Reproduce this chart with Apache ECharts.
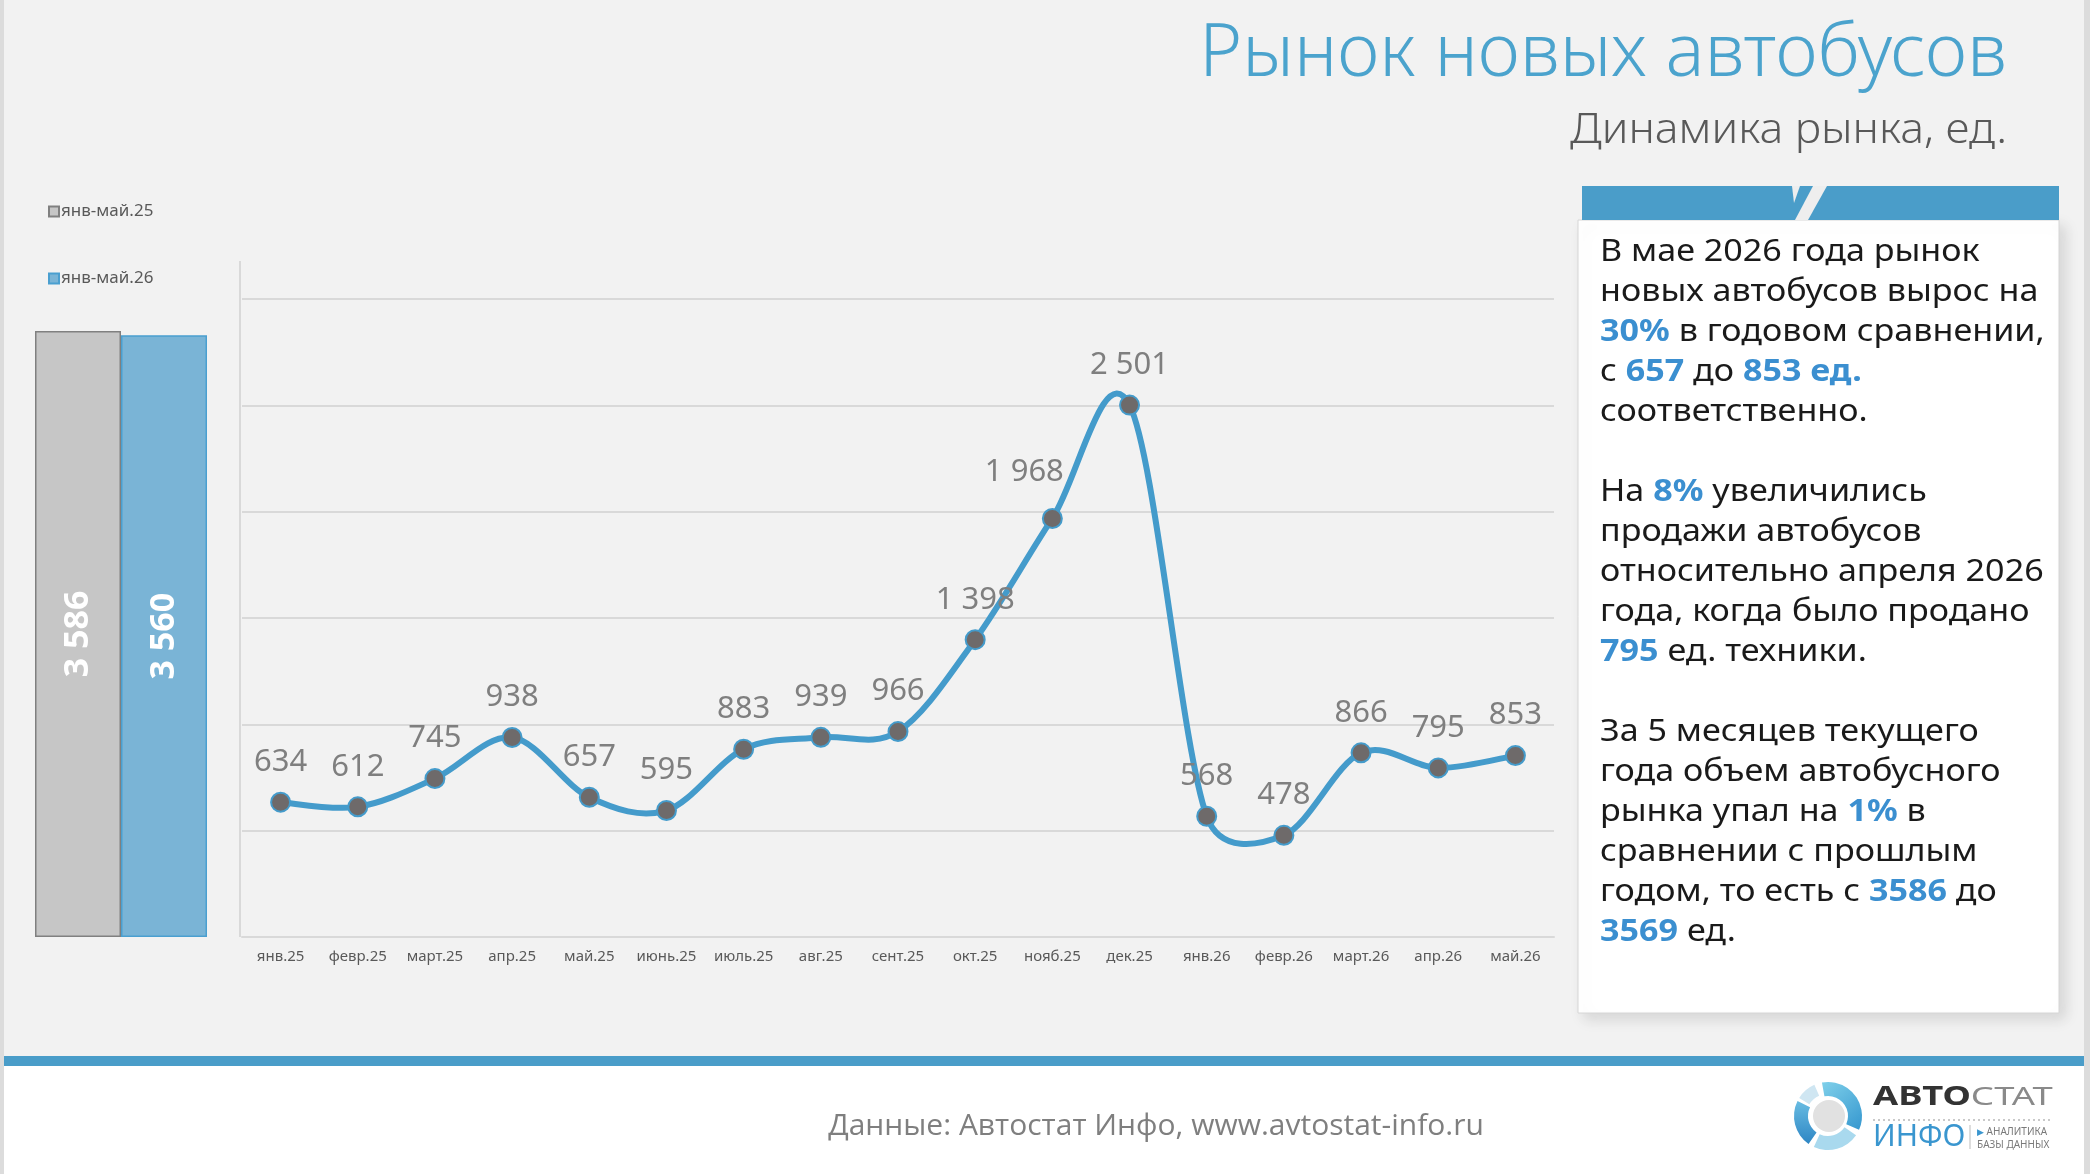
<!DOCTYPE html>
<html>
<head>
<meta charset="utf-8">
<script src="https://cdn.jsdelivr.net/npm/echarts@6/dist/echarts.min.js"></script>
<style>
html,body{margin:0;padding:0;background:#f2f2f2;}
#c{width:2090px;height:1174px;}
</style>
</head>
<body>
<div id="c"></div>
<script>
// ---- data ----
const months = ['янв.25','февр.25','март.25','апр.25','май.25','июнь.25','июль.25','авг.25','сент.25','окт.25','нояб.25','дек.25','янв.26','февр.26','март.26','апр.26','май.26'];
const sales = [634, 612, 745, 938, 657, 595, 883, 939, 966, 1398, 1968, 2501, 568, 478, 866, 795, 853];
const ytdNames = ['янв-май.25', 'янв-май.26'];
const ytdValues = [3586, 3560];
const titleText = 'Рынок новых автобусов';
const subtitleText = 'Динамика рынка, ед.';
const sourceText = 'Данные: Автостат Инфо, www.avtostat-info.ru';
const cardLines = [
  'В мае 2026 года рынок',
  'новых автобусов вырос на',
  '{b|30%} в годовом сравнении,',
  'с {b|657} до {b|853 ед.}',
  'соответственно.',
  '',
  'На {b|8%} увеличились',
  'продажи автобусов',
  'относительно апреля 2026',
  'года, когда было продано',
  '{b|795} ед. техники.',
  '',
  'За 5 месяцев текущего',
  'года объем автобусного',
  'рынка упал на {b|1%} в',
  'сравнении с прошлым',
  'годом, то есть с {b|3586} до',
  '{b|3569} ед.'
];

const fmt = v => String(v).replace(/\B(?=(\d{3})+(?!\d))/g, ' ');
const FONT = '"Noto Sans", sans-serif';
const BLUE = '#449bcb';

const lineData = sales.map((v, i) => {
  if (months[i] === 'нояб.25') return { value: v, label: { offset: [-28, -6] } };
  return v;
});

// Excel-like smoothed segment between point i and i+1 (uses axis coordinates from the library)
function renderSegment(params, api) {
  const i = params.dataIndex;
  const n = sales.length;
  if (i >= n - 1) return null;
  const P = k => api.coord([Math.max(0, Math.min(n - 1, k)), sales[Math.max(0, Math.min(n - 1, k))]]);
  const p0 = P(i - 1), p1 = P(i), p2 = P(i + 1), p3 = P(i + 2);
  const d = (a, b) => Math.hypot(a[0] - b[0], a[1] - b[1]);
  const f = 1 / 6;
  const d12 = d(p1, p2), d02 = d(p0, p2), d13 = d(p1, p3);
  let f0 = f, f1 = f;
  if (d02 / 6 >= d12 / 2) f0 = d02 > 0 ? d12 / d02 / 2 : 0;
  if (d13 / 6 >= d12 / 2) f1 = d13 > 0 ? d12 / d13 / 2 : 0;
  const c1 = [p1[0] + (p2[0] - p0[0]) * f0, p1[1] + (p2[1] - p0[1]) * f0];
  const c2 = [p2[0] - (p3[0] - p1[0]) * f1, p2[1] - (p3[1] - p1[1]) * f1];
  return {
    type: 'bezierCurve',
    shape: { x1: p1[0], y1: p1[1], cpx1: c1[0], cpy1: c1[1], cpx2: c2[0], cpy2: c2[1], x2: p2[0], y2: p2[1] },
    style: { stroke: BLUE, lineWidth: 6, fill: null, lineCap: 'round' }
  };
}

const chart = echarts.init(document.getElementById('c'), null, { renderer: 'canvas' });

const graphics = [
  // page borders
  { type: 'rect', shape: { x: 0, y: 0, width: 4, height: 1174 }, style: { fill: '#dcdcdc' }, z: -1 },
  { type: 'rect', shape: { x: 2084, y: 0, width: 6, height: 1174 }, style: { fill: '#dcdcdc' }, z: -1 },
  // footer
  { type: 'rect', shape: { x: 4, y: 1066, width: 2080, height: 108 }, style: { fill: '#ffffff' }, z: -1 },
  { type: 'rect', shape: { x: 4, y: 1056, width: 2080, height: 10 }, style: { fill: '#4a9dc9' } },
  // title
  { type: 'text', x: 2007, y: 55, style: { text: titleText, fill: '#4ba3cd', font: '300 73px ' + FONT, align: 'right', verticalAlign: 'middle' } },
  { type: 'text', x: 2007, y: 131, scaleX: 1.06, style: { text: subtitleText, fill: '#595959', font: '300 42px ' + FONT, align: 'right', verticalAlign: 'middle' } },
  // y axis line for the line chart
  { type: 'line', shape: { x1: 240, y1: 261, x2: 240, y2: 937 }, style: { stroke: '#d9d9d9', lineWidth: 2 } },
  // card
  { type: 'rect', shape: { x: 1578, y: 220, width: 481, height: 793 }, style: { fill: '#ffffff', stroke: '#d6d6d6', lineWidth: 1, shadowBlur: 14, shadowOffsetX: 6, shadowOffsetY: 6, shadowColor: 'rgba(0,0,0,0.12)' } },
  { type: 'rect', shape: { x: 1582, y: 186, width: 477, height: 34 }, style: { fill: '#4a9dc9' } },
  { type: 'polygon', shape: { points: [[1813, 186], [1827, 186], [1808, 220], [1795, 220]] }, style: { fill: '#eeeeee' } },
  { type: 'polygon', shape: { points: [[1792, 186], [1800, 186], [1794, 203]] }, style: { fill: '#eeeeee' } },
  { type: 'text', x: 1600, y: 232, scaleX: 1.1, style: {
      text: cardLines.join('\n'), fill: '#1a1a1a', font: '31px ' + FONT, lineHeight: 40, verticalAlign: 'top', align: 'left',
      rich: { b: { fill: '#3b8fd0', font: 'bold 31px ' + FONT, lineHeight: 40 } }
  } },
  // source
  { type: 'text', x: 1156, y: 1126, style: { text: sourceText, fill: '#7f7f7f', font: '30px "Open Sans", sans-serif', align: 'center', verticalAlign: 'middle' } },
  // logo
  { type: 'sector', shape: { cx: 1828, cy: 1116, r: 34, r0: 20, startAngle: -1.75, endAngle: 0.42 },
    style: { fill: new echarts.graphic.LinearGradient(0, 0, 1, 1, [{ offset: 0, color: '#7fd0ea' }, { offset: 1, color: '#3597cf' }]) } },
  { type: 'sector', shape: { cx: 1828, cy: 1116, r: 34, r0: 20, startAngle: 0.6, endAngle: 2.0 },
    style: { fill: '#a9d9ee' } },
  { type: 'sector', shape: { cx: 1828, cy: 1116, r: 34, r0: 20, startAngle: 2.18, endAngle: 3.6 },
    style: { fill: new echarts.graphic.LinearGradient(0, 0, 0, 1, [{ offset: 0, color: '#68bce2' }, { offset: 1, color: '#2e86c4' }]) } },
  { type: 'sector', shape: { cx: 1828, cy: 1116, r: 34, r0: 22, startAngle: 3.7, endAngle: 4.3 },
    style: { fill: '#cfe6f2' } },
  { type: 'circle', shape: { cx: 1829, cy: 1116, r: 16 }, style: { fill: '#e1e1e1' } },
  { type: 'text', x: 1873, y: 1098, scaleX: 1.4, style: { text: '{a|АВТО}{s|СТАТ}', verticalAlign: 'middle', align: 'left',
      rich: { a: { fill: '#333333', font: 'bold 26px ' + FONT }, s: { fill: '#8a8a8a', font: '26px ' + FONT } } } },
  { type: 'line', shape: { x1: 1873, y1: 1120, x2: 2052, y2: 1120 }, style: { stroke: '#b8b8b8', lineWidth: 1.5, lineDash: [2, 3] } },
  { type: 'text', x: 1873, y: 1137, style: { text: 'ИНФО', fill: '#3a96cf', font: '30px ' + FONT, verticalAlign: 'middle', align: 'left' } },
  { type: 'line', shape: { x1: 1970, y1: 1125, x2: 1970, y2: 1149 }, style: { stroke: '#bbbbbb', lineWidth: 1 } },
  { type: 'text', x: 1977, y: 1132, style: { text: '{t|▶} АНАЛИТИКА', fill: '#7a7a7a', font: '10px ' + FONT, verticalAlign: 'middle', align: 'left', rich: { t: { fill: '#3a96cf', font: '9px ' + FONT } } } },
  { type: 'text', x: 1977, y: 1145, style: { text: 'БАЗЫ ДАННЫХ', fill: '#7a7a7a', font: '10px ' + FONT, verticalAlign: 'middle', align: 'left' } }
];

chart.setOption({
  backgroundColor: '#f2f2f2',
  animation: false,
  legend: {
    data: ytdNames,
    orient: 'vertical',
    left: 43, top: 198,
    itemWidth: 10, itemHeight: 10, itemGap: 50,
    icon: 'rect',
    textStyle: { color: '#595959', fontSize: 17, fontFamily: FONT, padding: [0, 0, 0, -3] }
  },
  grid: [
    { left: 35, top: 261, width: 172, height: 676 },
    { left: 242, top: 299, width: 1312, height: 638 }
  ],
  xAxis: [
    { type: 'category', gridIndex: 0, data: ['ytd'], show: false },
    { type: 'category', gridIndex: 1, data: months, boundaryGap: true,
      axisLine: { lineStyle: { color: '#d9d9d9', width: 2 } },
      axisTick: { show: false },
      axisLabel: { color: '#595959', fontSize: 15, fontFamily: FONT, margin: 12, interval: 0 } }
  ],
  yAxis: [
    { type: 'value', gridIndex: 0, min: 0, max: 4000, show: false },
    { type: 'value', gridIndex: 1, min: 0, max: 3000, interval: 500,
      axisLine: { show: false }, axisTick: { show: false }, axisLabel: { show: false },
      splitLine: { lineStyle: { color: '#d9d9d9', width: 2 } } }
  ],
  series: [
    { name: ytdNames[0], type: 'bar', xAxisIndex: 0, yAxisIndex: 0, data: [ytdValues[0]],
      barWidth: 86, barGap: '0%',
      itemStyle: { color: '#c6c6c6', borderColor: '#808080', borderWidth: 1.5 },
      label: { show: true, position: 'inside', rotate: 90, color: '#ffffff', fontSize: 34, fontWeight: 'bold', fontFamily: FONT, formatter: p => fmt(p.value) } },
    { name: ytdNames[1], type: 'bar', xAxisIndex: 0, yAxisIndex: 0, data: [ytdValues[1]],
      barWidth: 86, barGap: '0%',
      itemStyle: { color: '#7ab4d6', borderColor: '#4a9fd0', borderWidth: 1.5 },
      label: { show: true, position: 'inside', rotate: 90, color: '#ffffff', fontSize: 34, fontWeight: 'bold', fontFamily: FONT, formatter: p => fmt(p.value) } },
    { name: 'curve', type: 'custom', xAxisIndex: 1, yAxisIndex: 1,
      data: sales.map((v, i) => [i, v]), encode: { x: 0, y: 1 },
      renderItem: renderSegment, z: 2, silent: true },
    { name: 'sales', type: 'line', xAxisIndex: 1, yAxisIndex: 1, data: lineData,
      lineStyle: { width: 0, opacity: 0 },
      symbol: 'circle', symbolSize: 19,
      itemStyle: { color: '#6e6a6a', borderColor: BLUE, borderWidth: 2 },
      label: { show: true, position: 'top', distance: 14, color: '#7f7f7f', fontSize: 31, fontFamily: FONT, formatter: p => fmt(p.value) },
      z: 3 }
  ],
  graphic: graphics
});
</script>
</body>
</html>
